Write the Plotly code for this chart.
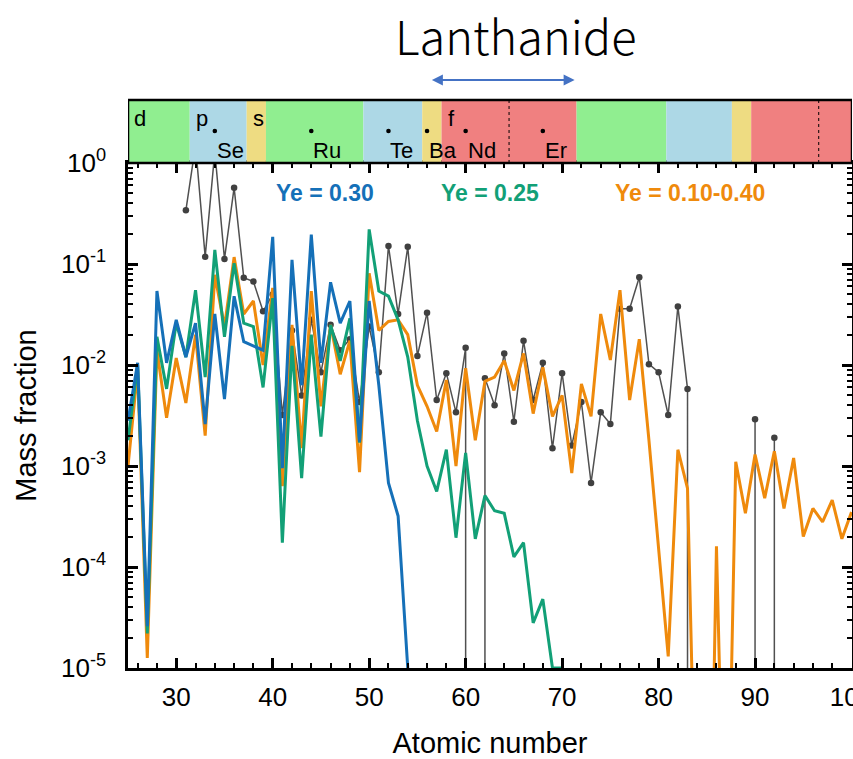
import plotly.graph_objects as go

# ---------------- data ----------------
# Mass fractions by atomic number for each model
Z_YE030 = list(range(25, 55))
YE030 = [2.8e-3, 1.05e-2, 2.6e-5, 5.4e-2, 1.05e-2, 2.8e-2, 1.2e-2, 2.6e-2, 2.6e-3, 3.2e-2,
         4.6e-3, 4.8e-2, 1.7e-2, 1.55e-2, 1.4e-2, 1.86e-1, 9.5e-4, 1.1e-1, 6.3e-3, 1.95e-1,
         1.05e-2, 6.6e-2, 2.6e-2, 4.3e-2, 1.74e-3, 4.3e-2, 6.3e-3, 6.8e-4, 3.2e-4, 1.0e-5]

Z_YE025 = list(range(25, 71))
YE025 = [1.8e-3, 1.0e-2, 2.2e-5, 1.9e-2, 5.8e-3, 2.6e-2, 1.2e-2, 5.5e-2, 7.6e-3, 1.38e-1,
         1.9e-2, 1.02e-1, 2.6e-2, 2.4e-2, 6.0e-3, 4.6e-2, 1.74e-4, 1.55e-2, 7.6e-4, 2.0e-2,
         1.95e-3, 2.5e-2, 1.1e-2, 2.9e-2, 1.7e-3, 2.2e-1, 5.4e-2, 4.8e-2, 2.8e-2, 1.2e-2,
         2.8e-3, 1.0e-3, 5.6e-4, 1.45e-3, 1.95e-4, 1.35e-3, 1.9e-4, 5.1e-4, 3.6e-4, 3.4e-4,
         1.26e-4, 1.74e-4, 2.8e-5, 4.8e-5, 1.0e-5, 1.0e-5]

Z_YE_RANGE = list(range(25, 101))
YE_RANGE = [1.0e-3, 8.9e-3, 1.26e-5, 1.4e-2, 3.0e-3, 1.17e-2, 4.2e-3, 2.0e-2, 2.0e-3, 7.8e-2,
            2.4e-2, 1.17e-1, 3.2e-2, 4.3e-2, 1.0e-2, 5.8e-2, 6.3e-4, 2.5e-2, 1.5e-3, 5.4e-2,
            3.9e-3, 2.5e-2, 8.1e-3, 1.74e-2, 8.7e-4, 8.1e-2, 2.2e-2, 2.7e-2, 2.8e-2, 2.0e-2,
            6.3e-3, 3.9e-3, 2.2e-3, 7.1e-3, 1.0e-3, 9.3e-3, 1.8e-3, 6.9e-3, 7.6e-3, 1.1e-2,
            5.6e-3, 1.3e-2, 3.3e-3, 9.5e-3, 3.1e-3, 5.0e-3, 8.5e-4, 6.5e-3, 3.1e-3, 3.2e-2,
            1.12e-2, 5.5e-2, 4.5e-3, 1.8e-2, 1.8e-3, 1.6e-4, 1.3e-5, 1.45e-3, 6.0e-4, 6e-8,
            1e-9, 1.6e-4, 2e-8, 1.1e-3, 3.4e-4, 1.3e-3, 4.8e-4, 1.4e-3, 3.8e-4, 1.2e-3,
            2.0e-4, 3.8e-4, 2.8e-4, 4.6e-4, 1.9e-4, 3.5e-4]

# Solar r-process pattern; 0 = element without a value
Z_SOLAR = list(range(31, 94))
SOLAR = [3.4e-1, 1.5, 1.18e-1, 1.3, 1.12e-1, 5.7e-1, 7.3e-2, 6.7e-2, 3.4e-2, 5.0e-2,
         3.2e-3, 2.2e-2, 5.0e-3, 2.8e-2, 8.5e-3, 2.5e-2, 1.4e-2, 1.8e-2, 4.3e-3, 2.4e-2,
         8.5e-3, 1.51e-1, 3.2e-2, 1.48e-1, 1.23e-2, 3.3e-2, 4.5e-3, 8.3e-3, 3.4e-3, 1.48e-2,
         0, 7.4e-3, 4.0e-3, 1.3e-2, 2.75e-3, 1.74e-2, 4.5e-3, 1.05e-2, 1.5e-3, 8.3e-3,
         1.6e-3, 4.3e-3, 6.8e-4, 3.4e-3, 2.6e-3, 3.6e-2, 3.6e-2, 7.4e-2, 1.02e-2, 8.5e-3,
         3.2e-3, 3.8e-2, 5.8e-3, 0, 0, 0, 0, 0, 0, 2.9e-3,
         0, 1.9e-3, 0]

# Periodic-table blocks along the top strip
BLOCK_NAMES = ["d", "p", "s", "d", "p", "s", "f", "d", "p", "s", "f"]
BLOCK_EDGES = [25, 31.4, 37.3, 39.3, 49.4, 55.5, 57.5, 71.5, 80.8, 87.6, 89.6, 100.05]
F_SUBDIVIDERS = [64.5, 96.6]
MARKED_ELEMENTS = ["Se", "Ru", "Te", "Ba", "Nd", "Er"]
MARKED_Z = [34, 44, 52, 56, 60, 68]
LANTHANIDE_SPAN = [56.5, 71.3]

SERIES_LABELS = ["Ye = 0.30", "Ye = 0.25", "Ye = 0.10-0.40"]

# ---------------- styling ----------------
BLUE, GREEN, ORANGE, GRAY = "#1570b8", "#12a077", "#ef8a0c", "#505050"
BLOCK_COLORS = {"d": "#90ee90", "p": "#add8e6", "s": "#eedc82", "f": "#f08080"}
FONT = "Liberation Sans, Arial, sans-serif"

W, H = 853, 759
M_L, M_R, M_T, M_B = 128, 1, 163, 91
PLOT_W = W - M_L - M_R
PLOT_H = H - M_T - M_B
X_RANGE = [25, 100.05]


def paper_y(py):
    """Pixel row -> paper y coordinate."""
    return (H - M_B - py) / PLOT_H


def paper_x(px):
    """Pixel column -> paper x coordinate."""
    return (px - M_L) / PLOT_W


def drop_path(z, v, floor=1e-12):
    """Connect the points; next to an element without a value the line drops to the floor."""
    xs, ys = [], []
    for i, (zi, vi) in enumerate(zip(z, v)):
        if vi > 0:
            if i > 0 and v[i - 1] == 0:
                xs.append(zi)
                ys.append(floor)
            xs.append(zi)
            ys.append(vi)
            if i + 1 < len(v) and v[i + 1] == 0:
                xs.append(zi)
                ys.append(floor)
        elif xs and xs[-1] is not None:
            xs.append(None)
            ys.append(None)
    return xs, ys


fig = go.Figure()

sx, sy = drop_path(Z_SOLAR, SOLAR)
fig.add_trace(go.Scatter(x=sx, y=sy, mode="lines", line=dict(color=GRAY, width=1.5),
                         hoverinfo="skip", showlegend=False))
fig.add_trace(go.Scatter(x=[z for z, v in zip(Z_SOLAR, SOLAR) if v > 0],
                         y=[v for v in SOLAR if v > 0], mode="markers",
                         marker=dict(color="#404040", size=6.5), showlegend=False))

for zs, vals, col in [(Z_YE_RANGE, YE_RANGE, ORANGE), (Z_YE025, YE025, GREEN), (Z_YE030, YE030, BLUE)]:
    fig.add_trace(go.Scatter(x=zs, y=vals, mode="lines", line=dict(color=col, width=3),
                             showlegend=False))

shapes = []
BAND_Y0, BAND_Y1 = 1.0, paper_y(100)
for name, x0, x1 in zip(BLOCK_NAMES, BLOCK_EDGES[:-1], BLOCK_EDGES[1:]):
    shapes.append(dict(type="rect", xref="x", yref="paper", x0=x0, x1=x1, y0=BAND_Y0, y1=BAND_Y1,
                       fillcolor=BLOCK_COLORS[name], line=dict(width=0), layer="above"))
for xd in F_SUBDIVIDERS:
    shapes.append(dict(type="line", xref="x", yref="paper", x0=xd, x1=xd, y0=BAND_Y0, y1=BAND_Y1,
                       line=dict(color="black", width=1, dash="dot"), layer="above"))
shapes.append(dict(type="rect", xref="x", yref="paper", x0=X_RANGE[0], x1=X_RANGE[1],
                   y0=BAND_Y0, y1=BAND_Y1,
                   line=dict(color="black", width=2.5), fillcolor="rgba(0,0,0,0)", layer="above"))
for zm in MARKED_Z:
    shapes.append(dict(type="circle", xref="x", yref="paper", xsizemode="pixel", ysizemode="pixel",
                       xanchor=zm, yanchor=paper_y(131), x0=-2.3, x1=2.3, y0=-2.3, y1=2.3,
                       fillcolor="black", line=dict(width=0), layer="above"))

annotations = []
seen = set()
for name, x0 in zip(BLOCK_NAMES, BLOCK_EDGES[:-1]):
    if name in seen:
        continue
    seen.add(name)
    annotations.append(dict(x=x0, y=paper_y(119), xref="x", yref="paper", text=name,
                            showarrow=False, xanchor="left", yanchor="middle", xshift=4,
                            font=dict(family=FONT, size=22, color="black")))
for el, zm in zip(MARKED_ELEMENTS, MARKED_Z):
    annotations.append(dict(x=zm, y=paper_y(150), xref="x", yref="paper", text=el,
                            showarrow=False, xanchor="left", yanchor="middle", xshift=0,
                            font=dict(family=FONT, size=22, color="black")))

# series labels
for label, col, xc in zip(SERIES_LABELS, [BLUE, GREEN, ORANGE], [325, 490, 690]):
    annotations.append(dict(x=paper_x(xc), y=paper_y(193), xref="paper", yref="paper",
                            text=f"<b>{label}</b>", showarrow=False,
                            xanchor="center", yanchor="middle",
                            font=dict(family=FONT, size=23, color=col)))

# Lanthanide range arrow (two heads meeting in the middle) and heading
px_per_z = PLOT_W / (X_RANGE[1] - X_RANGE[0])
half_len = (LANTHANIDE_SPAN[1] - LANTHANIDE_SPAN[0]) / 2 * px_per_z + 3
for xe, sgn in zip(LANTHANIDE_SPAN, [1, -1]):
    annotations.append(dict(x=xe, y=paper_y(80), xref="x", yref="paper",
                            ax=sgn * half_len, ay=0, axref="pixel", ayref="pixel",
                            text="", showarrow=True, arrowhead=2, standoff=0,
                            arrowsize=1.1, arrowwidth=2, arrowcolor="#4472c4"))
annotations.append(dict(x=paper_x(516), y=paper_y(34), xref="paper", yref="paper",
                        text="Lanthanide", showarrow=False, xanchor="center", yanchor="middle",
                        font=dict(family="Noto Sans CJK JP, Noto Sans, sans-serif", size=47,
                                  weight=300, color="black")))

tick_exps = [-5, -4, -3, -2, -1, 0]
fig.update_layout(
    width=W, height=H, margin=dict(l=M_L, r=M_R, t=M_T, b=M_B, pad=0, autoexpand=False),
    paper_bgcolor="white", plot_bgcolor="white", showlegend=False,
    shapes=shapes, annotations=annotations,
    font=dict(family=FONT, color="black"),
)
fig.update_xaxes(range=X_RANGE, tick0=0, dtick=10, ticks="inside", ticklen=10, tickwidth=2.5,
                 tickcolor="black", showline=True, linewidth=2.5, linecolor="black",
                 mirror="allticks", showgrid=False, zeroline=False, automargin=False,
                 tickfont=dict(family=FONT, size=26, color="black"), ticklabelstandoff=4,
                 ticklabeloverflow="allow",
                 minor=dict(dtick=2, ticks="inside", ticklen=5, tickwidth=2, tickcolor="black",
                            showgrid=False),
                 title=dict(text="Atomic number", font=dict(family=FONT, size=29), standoff=23))
fig.update_yaxes(type="log", range=[-5, 0], tickvals=[10.0 ** e for e in tick_exps],
                 ticktext=[f"10<sup>{e}</sup>" for e in tick_exps],
                 ticks="inside", ticklen=10, tickwidth=2.5, tickcolor="black",
                 showline=True, linewidth=2.5, linecolor="black", mirror="allticks",
                 showgrid=False, zeroline=False, automargin=False,
                 tickfont=dict(family=FONT, size=26, color="black"), ticklabelstandoff=14,
                 minor=dict(tickvals=[k * 10.0 ** e for e in range(-5, 0) for k in range(2, 10)],
                            ticks="inside", ticklen=5, tickwidth=2, tickcolor="black",
                            showgrid=False),
                 title=dict(text="Mass fraction", font=dict(family=FONT, size=29), standoff=16))

fig.write_html("out.html")
